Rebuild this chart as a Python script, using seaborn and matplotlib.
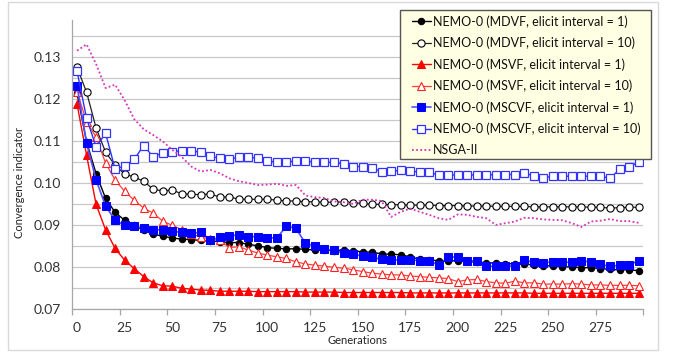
import matplotlib
matplotlib.use("Agg")
import matplotlib.pyplot as plt
from matplotlib.patches import Rectangle
from matplotlib.ticker import FixedLocator, NullFormatter
import pandas as pd
import seaborn as sns

# Generation at which each value was recorded
generations = list(range(0, 300, 5))

mdvf_1 = [0.1214, 0.1099, 0.1023, 0.0964, 0.0931, 0.0912, 0.0900, 0.0888, 0.0879, 0.0874,
          0.0870, 0.0867, 0.0866, 0.0864, 0.0863, 0.0861, 0.0859, 0.0859, 0.0855, 0.0851,
          0.0847, 0.0845, 0.0844, 0.0844, 0.0843, 0.0841, 0.0841, 0.0840, 0.0841, 0.0839,
          0.0837, 0.0836, 0.0832, 0.0831, 0.0830, 0.0825, 0.0819, 0.0817, 0.0816, 0.0816,
          0.0815, 0.0814, 0.0812, 0.0811, 0.0810, 0.0809, 0.0808, 0.0807, 0.0806, 0.0804,
          0.0803, 0.0801, 0.0801, 0.0799, 0.0799, 0.0797, 0.0795, 0.0794, 0.0794, 0.0792]

mdvf_10 = [0.1276, 0.1217, 0.1132, 0.1074, 0.1043, 0.1022, 0.1015, 0.1005, 0.0986, 0.0982,
           0.0984, 0.0975, 0.0974, 0.0973, 0.0975, 0.0967, 0.0968, 0.0962, 0.0962, 0.0962,
           0.0962, 0.0960, 0.0958, 0.0958, 0.0956, 0.0956, 0.0955, 0.0955, 0.0956, 0.0954,
           0.0952, 0.0950, 0.0950, 0.0949, 0.0949, 0.0948, 0.0948, 0.0948, 0.0947, 0.0947,
           0.0947, 0.0946, 0.0946, 0.0946, 0.0945, 0.0945, 0.0945, 0.0945, 0.0944, 0.0944,
           0.0944, 0.0944, 0.0944, 0.0944, 0.0943, 0.0943, 0.0941, 0.0942, 0.0943, 0.0943]

msvf_1 = [0.1189, 0.1067, 0.0950, 0.0889, 0.0845, 0.0817, 0.0797, 0.0778, 0.0763, 0.0756,
          0.0755, 0.0750, 0.0748, 0.0746, 0.0745, 0.0743, 0.0743, 0.0743, 0.0743, 0.0742,
          0.0742, 0.0742, 0.0742, 0.0742, 0.0741, 0.0741, 0.0741, 0.0741, 0.0740, 0.0740,
          0.0740, 0.0740, 0.0740, 0.0740, 0.0740, 0.0739, 0.0739, 0.0739, 0.0739, 0.0739,
          0.0739, 0.0739, 0.0739, 0.0739, 0.0739, 0.0739, 0.0739, 0.0739, 0.0738, 0.0738,
          0.0738, 0.0738, 0.0738, 0.0738, 0.0738, 0.0738, 0.0738, 0.0738, 0.0738, 0.0738]

msvf_10 = [0.1218, 0.1147, 0.1110, 0.1048, 0.1008, 0.0981, 0.0960, 0.0941, 0.0929, 0.0910,
           0.0900, 0.0890, 0.0880, 0.0872, 0.0867, 0.0864, 0.0847, 0.0849, 0.0841, 0.0834,
           0.0829, 0.0825, 0.0821, 0.0813, 0.0808, 0.0805, 0.0803, 0.0800, 0.0798, 0.0794,
           0.0790, 0.0786, 0.0784, 0.0782, 0.0782, 0.0779, 0.0778, 0.0776, 0.0775, 0.0773,
           0.0766, 0.0770, 0.0771, 0.0766, 0.0763, 0.0762, 0.0767, 0.0763, 0.0763, 0.0760,
           0.0760, 0.0760, 0.0761, 0.0760, 0.0758, 0.0758, 0.0757, 0.0757, 0.0757, 0.0756]

mscvf_1 = [0.1232, 0.1095, 0.1008, 0.0946, 0.0912, 0.0900, 0.0898, 0.0893, 0.0890, 0.0889,
           0.0886, 0.0883, 0.0881, 0.0883, 0.0865, 0.0871, 0.0875, 0.0877, 0.0873, 0.0873,
           0.0870, 0.0870, 0.0898, 0.0893, 0.0857, 0.0851, 0.0843, 0.0841, 0.0833, 0.0831,
           0.0827, 0.0824, 0.0819, 0.0817, 0.0818, 0.0817, 0.0816, 0.0816, 0.0805, 0.0824,
           0.0825, 0.0816, 0.0815, 0.0803, 0.0802, 0.0803, 0.0803, 0.0817, 0.0812, 0.0811,
           0.0813, 0.0812, 0.0812, 0.0815, 0.0813, 0.0807, 0.0802, 0.0805, 0.0805, 0.0816]

mscvf_10 = [0.1267, 0.1155, 0.1087, 0.1119, 0.1034, 0.1041, 0.1057, 0.1090, 0.1063, 0.1073,
            0.1075, 0.1078, 0.1076, 0.1075, 0.1064, 0.1060, 0.1057, 0.1063, 0.1062, 0.1060,
            0.1053, 0.1051, 0.1050, 0.1054, 0.1054, 0.1050, 0.1050, 0.1050, 0.1046, 0.1040,
            0.1040, 0.1036, 0.1028, 0.1029, 0.1031, 0.1029, 0.1027, 0.1026, 0.1020, 0.1020,
            0.1020, 0.1020, 0.1020, 0.1020, 0.1021, 0.1021, 0.1021, 0.1024, 0.1018, 0.1013,
            0.1017, 0.1017, 0.1017, 0.1017, 0.1017, 0.1017, 0.1012, 0.1033, 0.1038, 0.1051]

nsga2 = [0.1316, 0.1331, 0.1284, 0.1227, 0.1235, 0.1198, 0.1153, 0.1129, 0.1115, 0.1100,
         0.1080, 0.1063, 0.1040, 0.1028, 0.1032, 0.1024, 0.1012, 0.1005, 0.1001, 0.0996,
         0.0997, 0.0999, 0.0994, 0.0996, 0.0971, 0.0967, 0.0965, 0.0957, 0.0955, 0.0951,
         0.0961, 0.0961, 0.0958, 0.0920, 0.0932, 0.0940, 0.0932, 0.0925, 0.0917, 0.0913,
         0.0926, 0.0925, 0.0920, 0.0917, 0.0901, 0.0905, 0.0909, 0.0918, 0.0917, 0.0914,
         0.0913, 0.0912, 0.0905, 0.0896, 0.0909, 0.0911, 0.0915, 0.0910, 0.0910, 0.0906]

labels = [
    "NEMO-0 (MDVF, elicit interval = 1)",
    "NEMO-0 (MDVF, elicit interval = 10)",
    "NEMO-0 (MSVF, elicit interval = 1)",
    "NEMO-0 (MSVF, elicit interval = 10)",
    "NEMO-0 (MSCVF, elicit interval = 1)",
    "NEMO-0 (MSCVF, elicit interval = 10)",
    "NSGA-II",
]
x_tick_labels = ["0", "25", "50", "75", "100", "125", "150", "175", "200", "225", "250", "275"]
y_tick_labels = ["0.07", "0.08", "0.09", "0.10", "0.11", "0.12", "0.13"]

sns.set_theme(style="white")
plt.rcParams["font.family"] = ["Lato", "DejaVu Sans"]

W, H = 673, 352
fig = plt.figure(figsize=(W / 100, H / 100), dpi=100)
ax = fig.add_axes([72.3 / W, 1 - 309.3 / H, (643.3 - 72.3) / W, (309.3 - 20) / H])

styles = [
    dict(color="black", marker="o", markersize=4.6, markerfacecolor="black",
         markeredgecolor="black", linewidth=1.0),
    dict(color="#222222", marker="o", markersize=5.2, markerfacecolor="white",
         markeredgecolor="black", markeredgewidth=0.8, linewidth=0.9),
    dict(color="#FF0000", marker="^", markersize=5.2, markerfacecolor="#FF0000",
         markeredgecolor="#FF0000", linewidth=1.0),
    dict(color="#FF4040", marker="^", markersize=5.6, markerfacecolor="white",
         markeredgecolor="#FF2020", markeredgewidth=0.8, linewidth=0.9),
    dict(color="#5050FF", marker="s", markersize=5.8, markerfacecolor="#0000FF",
         markeredgecolor="#0000FF", linewidth=1.2),
    dict(color="#3030FF", marker="s", markersize=5.6, markerfacecolor="white",
         markeredgecolor="#3333FF", markeredgewidth=0.9, linewidth=1.0),
    dict(color="#D633B8", linestyle=(0, (1, 1.3)), linewidth=1.3),
]
series = [mdvf_1, mdvf_10, msvf_1, msvf_10, mscvf_1, mscvf_10, nsga2]

for values, label, st in zip(series, labels, styles):
    df = pd.DataFrame({"Generations": generations, "value": values})
    sns.lineplot(data=df, x="Generations", y="value", ax=ax, label=label, **st)

# axes limits, grid and ticks
ax.set_xlim(-2.5, 297.5)
ax.set_ylim(0.07, 0.1389)
ax.set_yticks([0.07, 0.08, 0.09, 0.10, 0.11, 0.12, 0.13])
ax.set_yticklabels(y_tick_labels)
ax.yaxis.set_minor_locator(FixedLocator([0.075, 0.085, 0.095, 0.105, 0.115, 0.125, 0.135]))
ax.grid(True, which="both", axis="y", color="#C8C8C8", linewidth=0.9)
ax.grid(False, axis="x")
ax.set_axisbelow(True)

ax.set_xticks(list(range(0, 276, 25)))
ax.set_xticklabels(x_tick_labels)
ax.xaxis.set_minor_locator(FixedLocator([-2.5 + 25 * k for k in range(13)]))
ax.xaxis.set_minor_formatter(NullFormatter())
ax.tick_params(axis="x", which="major", length=0, pad=9, labelsize=10, colors="#333333")
ax.tick_params(axis="x", which="minor", length=4.5, width=0.9, color="#A6A6A6", direction="out",
               bottom=True)
ax.tick_params(axis="y", which="both", length=0, pad=8, labelsize=10, colors="#333333")

for side in ("top", "right"):
    ax.spines[side].set_visible(False)
for side in ("left", "bottom"):
    ax.spines[side].set_color("#A6A6A6")
    ax.spines[side].set_linewidth(0.9)

ax.set_xlabel("Generations", fontsize=8, color="#222222", labelpad=1)
ax.set_ylabel("")
fig.text(20 / W, 1 - 182 / H, "Convergence indicator", rotation=90, fontsize=8,
         color="#222222", ha="center", va="center")

# legend box drawn as its own panel, entries placed inside it
box = Rectangle((400 / W, 1 - 159.3 / H), 250.7 / W, 149.3 / H, transform=fig.transFigure,
                facecolor="#FFFFE3", edgecolor="#555555", linewidth=1.0, zorder=4.5,
                clip_on=False)
ax.add_artist(box)
leg = ax.legend(loc="upper left", bbox_to_anchor=(412 / W, 1 - 15 / H),
                bbox_transform=fig.transFigure, fontsize=9.0, frameon=False,
                handlelength=1.5, handletextpad=0.2, labelspacing=0.72,
                borderpad=0, borderaxespad=0)
leg.set_zorder(5)
for txt in leg.get_texts():
    txt.set_color("#111111")

# chart-area border
fig.patches.append(Rectangle((8 / W, 2 / H), 650 / W, 348 / H, transform=fig.transFigure,
                             fill=False, edgecolor="#D9D9D9", linewidth=1.0))

fig.savefig("out.png", dpi=100)
